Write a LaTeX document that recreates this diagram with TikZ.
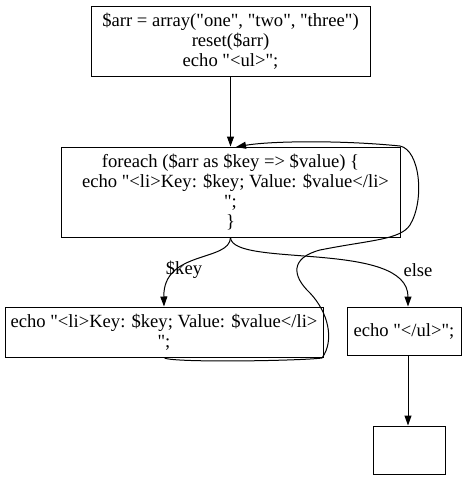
\documentclass[tikz,border=0pt]{standalone}
\usepackage{fontspec}
\setmainfont{Liberation Serif}[Ligatures=TeXOff]
\usetikzlibrary{arrows.meta}
\begin{document}
\begin{tikzpicture}[x=1pt,y=-1pt,
  box/.style={draw,line width=1pt,inner sep=0pt,align=center,font=\fontsize{18.6}{20}\selectfont},
  arr/.style={line width=1pt,-{Triangle[length=10pt,width=7pt]}},
  lbl/.style={font=\fontsize{18.6}{20}\selectfont}]
\useasboundingbox (0,0) rectangle (476,480);
\node[box,minimum width=279pt,minimum height=70pt] (A) at (230.5,41)
  {\$arr = array("one", "two", "three")\\reset(\$arr)\\echo "<ul>";};
\node[box,minimum width=339pt,minimum height=90pt] (B) at (230.5,192)
  {foreach (\$arr as \$key => \$value) \{\\\hspace*{10pt}echo "<li>Key: \$key; Value: \$value</li>\\";\\\}};
\node[box,minimum width=318pt,minimum height=50pt] (C) at (164,332)
  {echo "<li>Key: \$key; Value: \$value</li>\\";};
\node[box,minimum width=114pt,minimum height=48pt] (D) at (404,331) {echo "</ul>";};
\node[box,minimum width=72pt,minimum height=48pt] (E) at (409,450) {};
\draw[arr] (A) -- (B);
\draw[arr] (B.south) .. controls (230,262) and (163,250) .. (C.north);
\node[lbl] (k) at (184,270) {\$key};
\draw[arr] (B.south) .. controls (232,268) and (408,240) .. ([xshift=4pt]D.north);
\node[lbl] (e) at (418,270) {else};
\draw[arr] ([xshift=4pt]D.south) -- ([xshift=-1pt]E.north);
\draw[arr] (C.south) .. controls (165,363) and (300,361) .. (322,358)
  .. controls (335,340) and (328,312) .. (310,293)
  .. controls (292,276) and (290,258) .. (320,250)
  .. controls (370,240) and (400,240) .. (410,225)
  .. controls (425,200) and (420,150) .. (400,146)
  .. controls (340,140) and (270,141) .. (236,147);
\end{tikzpicture}
\end{document}
